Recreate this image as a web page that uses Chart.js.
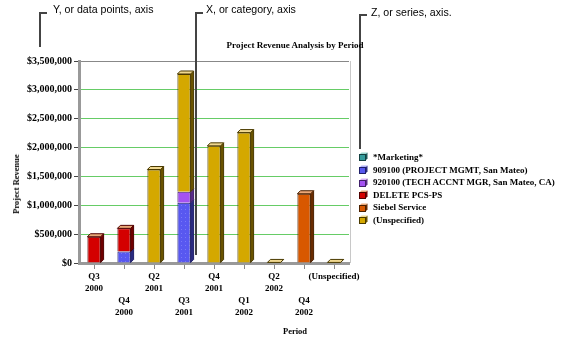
<!DOCTYPE html>
<html>
<head>
<meta charset="utf-8">
<script src="https://cdn.jsdelivr.net/npm/chart.js@4/dist/chart.umd.min.js"></script>
<style>
  body { margin: 0; background: #fff; }
  #wrap { position: relative; width: 576px; height: 340px; }
  #chart { position: absolute; left: 0; top: 0; }
  .note { position: absolute; font: 10.6px "Liberation Sans", Arial, sans-serif; color: #000; white-space: nowrap; line-height: 12px; }
  .ln { position: absolute; background: #444; }
  .ttl { position: absolute; font: bold 9px "Liberation Serif", "Times New Roman", serif; color: #000; white-space: nowrap; }
  #legend { position: absolute; left: 359px; top: 151px; font: bold 9px "Liberation Serif", "Times New Roman", serif; }
  #legend div { height: 12.6px; line-height: 12.6px; white-space: nowrap; }
  #legend canvas { vertical-align: middle; margin-right: 5px; position: relative; top: -1px; }
</style>
</head>
<body>
<div id="wrap">
  <canvas id="chart" width="576" height="340"></canvas>

  <!-- callouts -->
  <div class="ln" style="left:39px;top:12px;width:8px;height:2px"></div>
  <div class="ln" style="left:39px;top:12px;width:2px;height:35px"></div>
  <div class="note" style="left:53px;top:3px">Y, or data points, axis</div>

  <div class="ln" style="left:195px;top:12px;width:8px;height:2px"></div>
  <div class="ln" style="left:195px;top:12px;width:2px;height:243px"></div>
  <div class="note" style="left:206px;top:3px">X, or category, axis</div>

  <div class="ln" style="left:359px;top:14px;width:8px;height:2px"></div>
  <div class="ln" style="left:359px;top:14px;width:2px;height:135px"></div>
  <div class="note" style="left:371px;top:6px">Z, or series, axis.</div>

  <div class="ttl" style="left:295px;top:45px;transform:translate(-50%,-50%)">Project Revenue Analysis by Period</div>
  <div class="ttl" style="left:295px;top:331px;transform:translate(-50%,-50%);font-size:8.5px">Period</div>
  <div class="ttl" style="left:16px;top:184px;transform:translate(-50%,-50%) rotate(-90deg);font-size:8.5px">Project Revenue</div>

  <div id="legend"></div>
</div>
<script>
const periods = ['Q3 2000', 'Q4 2000', 'Q2 2001', 'Q3 2001', 'Q4 2001', 'Q1 2002', 'Q2 2002', 'Q4 2002', '(Unspecified)'];
const seriesNames = ['*Marketing*', '909100 (PROJECT MGMT, San Mateo)', '920100 (TECH ACCNT MGR, San Mateo, CA)', 'DELETE PCS-PS', 'Siebel Service', '(Unspecified)'];
const marketing = [0, 0, 0, 0, 0, 0, 0, 0, 0];
const projectMgmt = [0, 200000, 0, 1045000, 0, 0, 0, 0, 0];
const techAccnt = [0, 0, 0, 190000, 0, 0, 0, 0, 0];
const deletePcs = [455000, 400000, 0, 0, 0, 0, 0, 0, 0];
const siebelService = [0, 0, 0, 0, 0, 0, 0, 1200000, 0];
const unspecified = [0, 0, 1620000, 2040000, 2030000, 2260000, 10000, 0, 10000];
const yMax = 3500000;
const yStep = 500000;

// front / side / top colours per series
const fronts = ['#339c9c', '#5858f0', '#a452f2', '#d40000', '#d85800', '#d4a800'];
const sides  = ['#1c5a5a', '#2a2a80', '#5a2a88', '#700000', '#6a2c00', '#6a5400'];
const tops   = ['#9cd8d0', '#b0b0f8', '#d8b0f8', '#e8a878', '#eca878', '#f0d890'];
const edges  = ['#134040', '#20206a', '#40206a', '#500000', '#4a2000', '#4a3a00'];

function dotted(base, dot) {
    const c = document.createElement('canvas');
    c.width = c.height = 4;
    const g = c.getContext('2d');
    g.fillStyle = base; g.fillRect(0, 0, 4, 4);
    g.fillStyle = dot; g.fillRect(1, 1, 1, 1);
    return g.createPattern(c, 'repeat');
}

const seriesData = [marketing, projectMgmt, techAccnt, deletePcs, siebelService, unspecified];

const bar3d = {
    id: 'bar3d',
    beforeDatasetsDraw(chart) {
        const ctx = chart.ctx, a = chart.chartArea;
        ctx.save();
        ctx.strokeStyle = '#c8c8c8';
        ctx.lineWidth = 1;
        ctx.beginPath();
        ctx.moveTo(a.right + 1.5, a.top);
        ctx.lineTo(a.right + 1.5, a.bottom);
        ctx.stroke();
        ctx.restore();
    },
    afterDatasetsDraw(chart) {
        const ctx = chart.ctx, d = 3;
        const topIdx = [];
        chart.data.datasets.forEach((ds, di) => ds.data.forEach((v, i) => { if (v > 0) topIdx[i] = di; }));
        ctx.save();
        ctx.lineWidth = 1;
        chart.data.datasets.forEach((ds, di) => {
            const meta = chart.getDatasetMeta(di);
            meta.data.forEach((bar, i) => {
                if (!(ds.data[i] > 0)) return;
                const p = bar.getProps(['x', 'y', 'base', 'width'], true);
                const l = p.x - p.width / 2, r = p.x + p.width / 2;
                ctx.strokeStyle = edges[di];
                ctx.fillStyle = sides[di];
                ctx.beginPath();
                ctx.moveTo(r, p.y); ctx.lineTo(r + d, p.y - d); ctx.lineTo(r + d, p.base - d); ctx.lineTo(r, p.base);
                ctx.closePath(); ctx.fill(); ctx.stroke();
                if (topIdx[i] === di) {
                    ctx.fillStyle = tops[di];
                    ctx.beginPath();
                    ctx.moveTo(l, p.y); ctx.lineTo(l + d, p.y - d); ctx.lineTo(r + d, p.y - d); ctx.lineTo(r, p.y);
                    ctx.closePath(); ctx.fill(); ctx.stroke();
                }
            });
        });
        ctx.restore();
    }
};

const ctx = document.getElementById('chart').getContext('2d');
new Chart(ctx, {
    type: 'bar',
    data: {
        labels: periods,
        datasets: seriesNames.map((name, k) => ({
            label: name,
            data: seriesData[k],
            backgroundColor: k === 1 ? dotted(fronts[1], '#7878f8') : fronts[k],
            borderColor: edges[k],
            borderWidth: 1,
            barPercentage: 0.44,
            categoryPercentage: 1
        }))
    },
    options: {
        responsive: false,
        animation: false,
        devicePixelRatio: 1,
        layout: { padding: { left: 0, top: 61, right: 227, bottom: 0 } },
        plugins: { legend: { display: false }, tooltip: { enabled: false } },
        scales: {
            x: {
                stacked: true,
                afterFit: s => { s.height = 77; },
                border: { color: '#999', width: 3 },
                grid: { offset: false, drawOnChartArea: false, drawTicks: true, tickLength: 6, tickColor: '#888' },
                ticks: {
                    autoSkip: false, maxRotation: 0, minRotation: 0, padding: 2,
                    color: '#000',
                    font: { family: '"Liberation Serif", "Times New Roman", serif', size: 9, weight: 'bold', lineHeight: '12px' },
                    callback: (v, i) => {
                        const parts = periods[i].split(' ');
                        return i % 2 ? ['', ''].concat(parts) : parts;
                    }
                }
            },
            y: {
                stacked: true,
                min: 0, max: yMax,
                afterFit: s => { s.width = 79; },
                border: { color: '#999', width: 3 },
                grid: {
                    color: c => c.tick.value === yMax ? '#888' : (c.tick.value === 0 ? 'rgba(0,0,0,0)' : '#6c6'),
                    tickColor: '#444', tickLength: 5, lineWidth: 1
                },
                ticks: {
                    stepSize: yStep, padding: 2, color: '#000',
                    font: { family: '"Liberation Serif", "Times New Roman", serif', size: 10, weight: 'bold' },
                    callback: v => '$' + v.toLocaleString('en-US')
                }
            }
        }
    },
    plugins: [bar3d]
});

// legend with small cubes, built from the series list
const leg = document.getElementById('legend');
seriesNames.forEach((name, k) => {
    const row = document.createElement('div');
    const c = document.createElement('canvas');
    c.width = 9; c.height = 9;
    const g = c.getContext('2d');
    g.lineWidth = 1;
    g.fillStyle = tops[k];
    g.beginPath(); g.moveTo(0.5, 2.5); g.lineTo(2.5, 0.5); g.lineTo(8.5, 0.5); g.lineTo(6.5, 2.5); g.closePath(); g.fill();
    g.fillStyle = sides[k];
    g.beginPath(); g.moveTo(6.5, 2.5); g.lineTo(8.5, 0.5); g.lineTo(8.5, 6.5); g.lineTo(6.5, 8.5); g.closePath(); g.fill();
    g.fillStyle = fronts[k];
    g.fillRect(0, 2, 7, 7);
    g.strokeStyle = edges[k];
    g.strokeRect(0.5, 2.5, 6, 6);
    row.appendChild(c);
    row.appendChild(document.createTextNode(name));
    leg.appendChild(row);
});
</script>
</body>
</html>
